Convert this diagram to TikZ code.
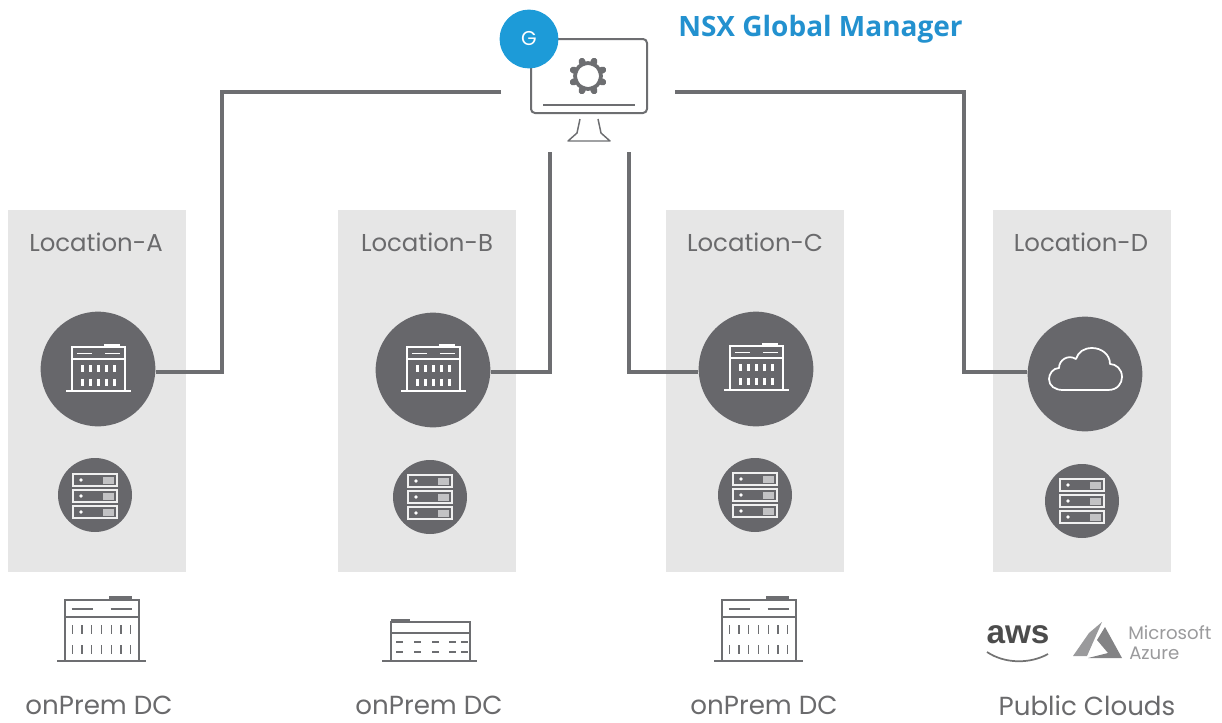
\documentclass[tikz,border=0pt]{standalone}
\usepackage{fontspec}
\setmainfont{Poppins}
\newfontfamily\nsxfont{Open Sans}
\newfontfamily\awsfont{Liberation Sans}
\definecolor{hubgrey}{HTML}{67676B}
\definecolor{linegrey}{HTML}{6D6E71}
\definecolor{panelgrey}{HTML}{E6E6E6}
\definecolor{labelgrey}{HTML}{6A6A6C}
\definecolor{gblue}{HTML}{1D9BD8}
\definecolor{nsxblue}{HTML}{2391CF}
\definecolor{azgrey}{HTML}{9A9A9C}
\tikzset{
  panel/.style={fill=panelgrey,draw=none,minimum width=133.5pt,minimum height=271.5pt,inner sep=0pt},
  hub/.style={circle,fill=hubgrey,draw=none,minimum size=86pt,inner sep=0pt},
  srv/.style={circle,fill=hubgrey,draw=none,minimum size=55.5pt,inner sep=0pt},
  conn/.style={draw=linegrey,line width=2.6pt,line join=miter},
  lbl/.style={text=labelgrey,font=\fontsize{18.3}{22}\selectfont,inner sep=0pt},
  lblbig/.style={text=labelgrey,font=\fontsize{19.6}{23}\selectfont,inner sep=0pt}
}
% building: #1 x, #2 y of base centre, #3 scale, #4 colour, #5 window x-list, #6 window width
\newcommand{\bldg}[6]{%
  \begin{scope}[shift={(#1,#2)},scale=#3,draw=#4,line width=1.5pt]
    \draw[line width=1.8pt] (-44.5,0) -- (44.5,0);
    \draw (-37,0) -- (-37,-61) -- (37,-61) -- (37,0);
    \fill[#4] (7,-65) rectangle (30,-60);
    \draw[line width=1.6pt] (-37,-44) -- (37,-44);
    \draw[line width=1.1pt] (-30,-52) -- (-9,-52) (9,-52) -- (30,-52);
    \foreach \wx in {#5} {
      \draw[line width=#6] (\wx,-36) -- (\wx,-27) (\wx,-16) -- (\wx,-7);
    }
  \end{scope}}
% server stack in a small circle
\newcommand{\racks}[2]{%
  \begin{scope}[shift={(#1,#2)},draw=white!90!hubgrey,line width=.9pt]
    \foreach \ry in {-16,0,16} {
      \draw (-22,\ry-6) rectangle (22,\ry+6);
      \fill[white] (-14,\ry) circle (1.8);
      \fill[white!60!hubgrey] (8,\ry-3.5) rectangle (19,\ry+3.5);
    }
  \end{scope}}
\begin{document}
\begin{tikzpicture}[x=.75pt,y=-.75pt]
\useasboundingbox (0,0) rectangle (1222,722);
% panels
\node[panel] (panelA) at (97,391) {};
\node[panel] (panelB) at (427,391) {};
\node[panel] (panelC) at (755,391) {};
\node[panel] (panelD) at (1082,391) {};
% hubs
\node[hub] (hubA) at (98,369) {};
\node[hub] (hubB) at (433,370) {};
\node[hub] (hubC) at (756,369) {};
\node[hub] (hubD) at (1085,374) {};
\node[srv] (srvA) at (95,495) {};
\node[srv] (srvB) at (430,497) {};
\node[srv] (srvC) at (755,495) {};
\node[srv] (srvD) at (1082,501) {};
% connector free ends
\coordinate (gmL) at (501,92);
\coordinate (gmR) at (675,92);
\coordinate (gmB) at (550,152);
\coordinate (gmC) at (629,152);
\coordinate (a1) at (222,92);
\coordinate (a2) at (222,372);
\coordinate (b2) at (550,372);
\coordinate (c2) at (629,372);
\coordinate (d1) at (964,92);
\coordinate (d2) at (964,372);
\draw[conn] (gmL) -- (a1) -- (a2) -- (a2 -| hubA.east);
\draw[conn] (gmB) -- (b2) -- (b2 -| hubB.east);
\draw[conn] (gmC) -- (c2) -- (c2 -| hubC.west);
\draw[conn] (gmR) -- (d1) -- (d2) -- (d2 -| hubD.west);
% labels
\node[lbl] (locA) at (96,242) {Location-A};
\node[lbl] (locB) at (427,242) {Location-B};
\node[lbl] (locC) at (755,242) {Location-C};
\node[lbl] (locD) at (1081,242) {Location-D};
\node[lblbig] (dcA) at (99,705.5) {onPrem DC};
\node[lblbig] (dcB) at (429,705.5) {onPrem DC};
\node[lblbig] (dcC) at (764,705.5) {onPrem DC};
\node[lblbig] (dcD) at (1087,705.5) {Public Clouds};
% monitor
\draw[linegrey,line width=1.5pt,rounded corners=3pt,fill=white] (531,39) rectangle (647,113);
\draw[linegrey,line width=1.5pt] (543,105) -- (635,105);
\draw[linegrey,line width=1.1pt,line join=round] (580,119) -- (577,133) -- (568,141) -- (610,141) -- (601,133) -- (598,119);
\begin{scope}[shift={(588,76)}]
  \draw[linegrey,line width=2.8pt] (0,0) circle (13);
  \foreach \ang in {22.5,67.5,...,337.5} {
    \draw[linegrey,line width=5pt,line cap=round] (\ang:14) -- (\ang:16);
  }
\end{scope}
\node[circle,fill=gblue,minimum size=44pt,inner sep=0pt,text=white,font=\fontsize{15}{17}\selectfont] (gbadge) at (529,39) {G};
\node[anchor=west,inner sep=0pt,text=nsxblue,font=\nsxfont\bfseries\fontsize{21}{25}\selectfont] (nsx) at (678,29) {NSX Global Manager};
% hub icons
\bldg{98.5}{391}{.72}{white}{-22,-11,0,11,22}{1.8pt}
\bldg{433.5}{391}{.72}{white}{-22,-11,0,11,22}{1.8pt}
\bldg{756.5}{390}{.72}{white}{-22,-11,0,11,22}{1.8pt}
\draw[white,line width=1.3pt,line join=round,shift={(1085,374)}]
  (-22,16) -- (23,16) .. controls (33,16) and (37,9) .. (37,3)
  .. controls (37,-5) and (31,-10) .. (25,-10)
  .. controls (25,-20) and (16,-26) .. (7,-26)
  .. controls (-1,-26) and (-7,-22) .. (-9,-15)
  .. controls (-17,-20) and (-26,-14) .. (-26,-6)
  .. controls (-32,-6) and (-36,0) .. (-36,5)
  .. controls (-36,12) and (-30,16) .. (-22,16) -- cycle;
\racks{95}{496}
\racks{430}{497}
\racks{755}{495}
\racks{1082}{501}
% bottom icons
\bldg{101.5}{661}{1}{linegrey}{-29,-19.5,-10,0,10,19.5,29}{1.3pt}
\bldg{758.5}{661}{1}{linegrey}{-29,-19.5,-10,0,10,19.5,29}{1.3pt}
\begin{scope}[draw=linegrey,line width=1.5pt]
  \draw[line width=1.8pt] (382,661) -- (477,661);
  \draw (391,661) -- (391,622) -- (470,622) -- (470,661);
  \fill[linegrey] (391,619) rectangle (410,623);
  \draw[line width=1.6pt] (391,633) -- (470,633);
  \foreach \wx in {396,414,432,449,461} {
    \draw[line width=1.2pt] (\wx,642) -- +(7,0) (\wx,652) -- +(7,0);
  }
\end{scope}
% cloud vendor logos
\node[inner sep=0pt,text=black!70,font=\awsfont\bfseries\fontsize{25}{27}\selectfont] (aws) at (1018,635) {aws};
\draw[black!55,line width=1.3pt] (987,652) .. controls (1005,664) and (1030,664) .. (1048,654);
\fill[azgrey] (1102,622) -- (1089,633) -- (1073,656) -- (1087,656) -- cycle;
\fill[azgrey!85!black] (1105,627) -- (1122,658) -- (1088,658) -- (1108,653) -- (1097,640) -- cycle;
\node[anchor=west,inner sep=0pt,text=azgrey,font=\fontsize{13.6}{15}\selectfont] (msft) at (1128,633) {Microsoft};
\node[anchor=west,inner sep=0pt,text=azgrey,font=\fontsize{13.6}{15}\selectfont] (azure) at (1129,653) {Azure};
\end{tikzpicture}
\end{document}
